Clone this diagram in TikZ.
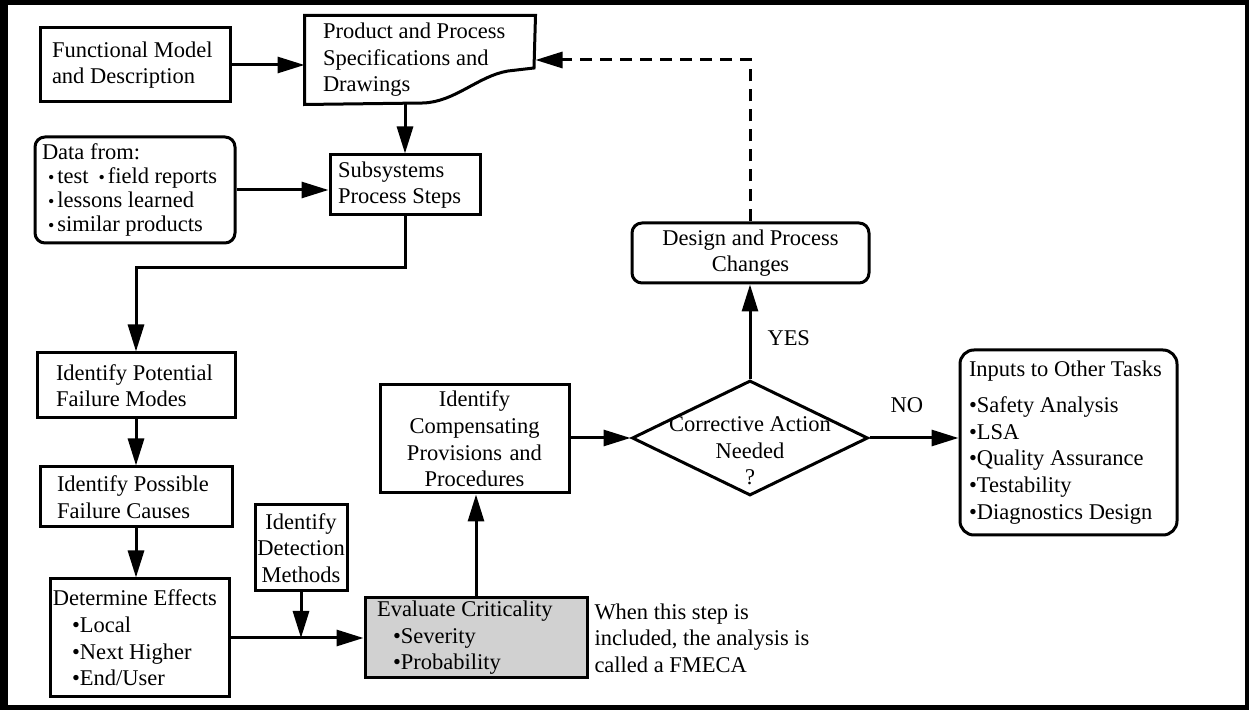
\documentclass[tikz,border=0pt]{standalone}
\usepackage{fontspec}
\setmainfont{Liberation Serif}
\usetikzlibrary{arrows.meta,shapes.geometric}
\definecolor{evalgray}{gray}{0.82}
\newcommand{\smdot}{{\small\textbullet}\hspace{1.5pt}}

\begin{document}
\begin{tikzpicture}
  [x=0.5pt,y=-0.5pt,line width=1.5pt,
   font=\fontsize{11.25}{13.3}\selectfont,
   every node/.style={inner sep=0pt},
   box/.style={draw,align=flush left},
   rbox/.style={box,rounded corners=5pt},
   arr/.style={-{Triangle[length=13.5pt,width=8pt]}}]
  \useasboundingbox (0,0) rectangle (1249,710);
  % frame
  \fill (0,0) rectangle (1249,710);
  \fill[white] (8,5) rectangle (1245,705);

  \node[box,text width=83pt,inner xsep=6pt,minimum height=37pt] (fm) at (135,65) {Functional Model\\and Description};
  \node[align=flush left,text width=97pt,inner xsep=8.5pt,minimum height=43pt] (spec) at (420,60) {Product and Process\\Specifications and\\Drawings};
  \draw (spec.south west) -- (spec.north west) -- (spec.north east) -- (534,68) -- (508,71)
    .. controls (478,76) and (455,102) .. (423,103) -- cycle;
  \node[rbox,text width=93pt,inner xsep=3.5pt,minimum height=53pt,font=\fontsize{11.25}{12}\selectfont] (data) at (135,190)
    {Data from:\\\hspace*{3pt}\smdot test\hspace{5pt}\smdot field reports\\\hspace*{3pt}\smdot lessons learned\\\hspace*{3pt}\smdot similar products};
  \node[box,text width=67pt,inner xsep=4pt,minimum height=30pt] (sub) at (405,185) {Subsystems\\Process Steps};

  \node[box,text width=80pt,inner xsep=9.5pt,minimum height=32.5pt] (pot) at (136,385.5) {Identify Potential\\Failure Modes};
  \node[box,text width=79pt,inner xsep=8.5pt,minimum height=30pt] (cau) at (136,497) {Identify Possible\\Failure Causes};
  \node[box,text width=86.5pt,inner xsep=1.5pt,minimum height=59pt] (eff) at (139.5,638)
    {Determine Effects\\\hspace*{9.5pt}\textbullet Local\\\hspace*{9.5pt}\textbullet Next Higher\\\hspace*{9.5pt}\textbullet End/User};
  \node[box,align=center,text width=44pt,inner xsep=1pt,minimum height=43pt] (det) at (301,548) {Identify\\Detection\\Methods};
  \node[box,fill=evalgray,text width=99pt,inner xsep=6pt,minimum height=40pt] (eva) at (476,638)
    {Evaluate Criticality\\\hspace*{8pt}\textbullet Severity\\\hspace*{8pt}\textbullet Probability};
  \node[align=left,anchor=west,inner sep=1.5pt] (note) at (590,638) {When this step is\\included, the analysis is\\called a FMECA};

  \node[box,align=center,text width=88.5pt,inner xsep=3pt,minimum height=54pt] (comp) at (474.5,439) {Identify\\Compensating\\Provisions and\\Procedures};
  \node[draw,diamond,minimum width=118pt,minimum height=57.5pt] (dia) at (750,438) {};
  \node[align=center] (diatxt) at (750,451) {Corrective Action\\Needed\\?};
  \node[rbox,align=center,minimum width=118.5pt,minimum height=30pt] (des) at (750.5,253) {Design and Process\\Changes};
  \node[rbox,text width=99.5pt,inner xsep=4.5pt,minimum height=92.5pt,rounded corners=7pt] (inp) at (1068.5,442.5)
    {Inputs to Other Tasks\\[4.7pt]\textbullet Safety Analysis\\\textbullet LSA\\\textbullet Quality Assurance\\\textbullet Testability\\\textbullet Diagnostics Design};

  % connectors
  \coordinate (bend) at (405,268);
  \draw[arr] (fm.east) -- (fm.east -| spec.west);
  \draw[arr] (sub.north |- spec.south) -- (sub.north);
  \draw[arr] (data.east) -- (data.east -| sub.west);
  \draw[arr] (sub.south) -- (bend) -| (pot.north);
  \foreach \from/\to in {pot/cau,cau/eff}
    \draw[arr] (\from.south) -- (\from.south |- \to.north);
  \draw[arr] (eff.east) -- (eva.west);
  \draw[arr] (det.south) -- (det.south |- eva.west);
  \draw[arr] (eva.north) -- (eva.north |- comp.south);
  \draw[arr] (dia.west -| comp.east) -- (dia.west);
  \draw[arr] (dia.north) -- node[right=8pt,pos=.43] {YES} (dia.north |- des.south);
  \draw[arr] (dia.east) -- node[above=12pt,pos=.42] {NO} (dia.east -| inp.west);
  \draw[arr,dash pattern=on 6pt off 4pt] (des.north) |- (spec.east);
\end{tikzpicture}
\end{document}
